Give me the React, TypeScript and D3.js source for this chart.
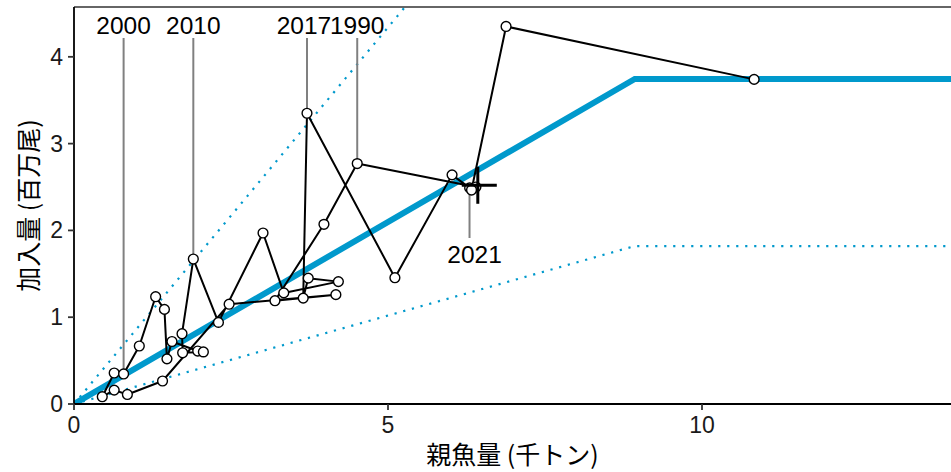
import React from "react";
import * as d3 from "d3";

// ---- data ----
const years = [
  1989, 1990, 1991, 1992, 1993, 1994, 1995, 1996, 1997, 1998, 1999,
  2000, 2001, 2002, 2003, 2004, 2005, 2006, 2007, 2008, 2009,
  2010, 2011, 2012, 2013, 2014, 2015, 2016, 2017, 2018, 2019,
  2020, 2021, 2022, 2023,
];
// spawning stock biomass (thousand t)
const ssb = [
  6.40, 4.51, 3.98, 3.20, 4.17, 2.47, 1.41, 0.85, 0.64, 0.45, 0.64,
  0.79, 1.04, 1.30, 1.44, 1.48, 1.56, 1.97, 2.06, 1.73, 1.72,
  1.90, 2.30, 3.01, 3.34, 4.21, 3.73, 3.65, 3.71, 5.11, 6.02,
  6.30, 6.33, 6.88, 10.83,
];
// recruitment (million fish)
const rec = [
  2.50, 2.77, 2.07, 1.19, 1.26, 1.15, 0.265, 0.11, 0.16, 0.084, 0.357,
  0.346, 0.668, 1.236, 1.09, 0.52, 0.72, 0.61, 0.60, 0.59, 0.81,
  1.67, 0.94, 1.97, 1.28, 1.41, 1.45, 1.22, 3.35, 1.455, 2.64,
  2.49, 2.465, 4.35, 3.74,
];

// hockey-stick stock–recruitment relation and its bands
const srX = [0, 8.93, 14];
const srMid = [0, 3.745, 3.745];
const srUpper = [0, 7.75, 7.75];
const srLower = [0, 1.82, 1.82];

// "+" marker
const markSSB = [6.43];
const markRec = [2.52];

const labelYearsAbove = [1990, 2000, 2010, 2017];
const labelYearsBelow = [2021];

const xTicks = [0, 5, 10];
const yTicks = [0, 1, 2, 3, 4];

const xTitle = "親魚量 (千トン)";
const yTitle = "加入量 (百万尾)";

const BLUE = "#0099cc";
const FONT = "'Liberation Sans', Arial, 'Noto Sans CJK JP', sans-serif";
const CJK = "'Noto Sans CJK JP', 'Liberation Sans', sans-serif";

export default function App() {
  const W = 951;
  const H = 472;
  const L = 74, R = 951, T = 7, B = 404;
  const x = d3.scaleLinear().domain([0, 13.965]).range([L, R]);
  const y = d3.scaleLinear().domain([0, 4.574]).range([B, T]);

  const sr = (vals: number[]) =>
    d3.line<number>().x((_, i) => x(srX[i])).y((d) => y(d))(vals) || "";

  const pts = years.map((yr, i) => ({ yr, s: ssb[i], r: rec[i] }));
  const path =
    d3
      .line<{ s: number; r: number }>()
      .x((d) => x(d.s))
      .y((d) => y(d.r))(pts) || "";

  const find = (yr: number) => pts.find((p) => p.yr === yr)!;

  return (
    <svg
      width={W}
      height={H}
      style={{ position: "absolute", left: 0, top: 0, background: "#fff" }}
    >
      <defs>
        <clipPath id="plotClip">
          <rect x={L} y={T} width={R - L} height={B - T} />
        </clipPath>
      </defs>

      {/* SR lines */}
      <g clipPath="url(#plotClip)" fill="none">
        <path d={sr(srUpper)} stroke={BLUE} strokeWidth={2.2} strokeDasharray="2.2 6.8" />
        <path d={sr(srLower)} stroke={BLUE} strokeWidth={2.2} strokeDasharray="2.2 6.8" />
        <path d={sr(srMid)} stroke={BLUE} strokeWidth={6} />
      </g>

      {/* label segments */}
      <g stroke="#808080" strokeWidth={2}>
        {labelYearsAbove.map((yr) => {
          const p = find(yr);
          return (
            <line key={yr} x1={x(p.s)} x2={x(p.s)} y1={38} y2={y(p.r) - 4} />
          );
        })}
        {labelYearsBelow.map((yr) => {
          const p = find(yr);
          return (
            <line key={yr} x1={x(p.s) - 2} x2={x(p.s) - 2} y1={y(p.r) + 3} y2={238} />
          );
        })}
      </g>

      {/* path + points */}
      <path d={path} fill="none" stroke="#000" strokeWidth={2} strokeLinejoin="round" />
      <g>
        {pts.map((p) => (
          <circle
            key={p.yr}
            cx={x(p.s)}
            cy={y(p.r)}
            r={4.9}
            fill="#fff"
            stroke="#000"
            strokeWidth={1.4}
          />
        ))}
      </g>

      {/* + marker */}
      {markSSB.map((s, i) => {
        const cx = x(s);
        const cy = y(markRec[i]);
        return (
          <g key={i} stroke="#000" strokeWidth={3}>
            <line x1={cx - 16} x2={cx + 19} y1={cy} y2={cy} />
            <line x1={cx} x2={cx} y1={cy - 18.5} y2={cy + 18.5} />
          </g>
        );
      })}

      {/* labels */}
      <g fontFamily={FONT} fontSize={24.5} fill="#000" textAnchor="middle">
        {labelYearsAbove.map((yr) => {
          const p = find(yr);
          return (
            <text key={yr} x={x(p.s) - (yr === 2017 ? 3 : 0)} y={34}>
              {yr}
            </text>
          );
        })}
        {labelYearsBelow.map((yr) => {
          const p = find(yr);
          return (
            <text key={yr} x={x(p.s) + 3} y={263}>
              {yr}
            </text>
          );
        })}
      </g>

      {/* frame and axes */}
      <line x1={L} x2={R} y1={T} y2={T} stroke="#333" strokeWidth={1.3} />
      <line x1={L} x2={L} y1={T} y2={B} stroke="#000" strokeWidth={1.8} />
      <line x1={L} x2={R} y1={B} y2={B} stroke="#000" strokeWidth={1.8} />

      <g fontFamily={FONT} fontSize={23} fill="#1a1a1a">
        {yTicks.map((t) => (
          <g key={t}>
            <line x1={L - 6} x2={L} y1={y(t)} y2={y(t)} stroke="#333" strokeWidth={1.8} />
            <text x={L - 11} y={y(t)} textAnchor="end" dominantBaseline="central">
              {t}
            </text>
          </g>
        ))}
        {xTicks.map((t) => (
          <g key={t}>
            <line x1={x(t)} x2={x(t)} y1={B} y2={B + 6} stroke="#333" strokeWidth={1.8} />
            <text x={x(t)} y={433} textAnchor="middle">
              {t}
            </text>
          </g>
        ))}
      </g>

      <text
        x={(L + R) / 2}
        y={464}
        textAnchor="middle"
        fontFamily={CJK}
        fontSize={25}
        fill="#000"
      >
        {xTitle}
      </text>
      <text
        transform={`translate(38, ${(T + B) / 2}) rotate(-90)`}
        textAnchor="middle"
        fontFamily={CJK}
        fontSize={25}
        fill="#000"
      >
        {yTitle}
      </text>
    </svg>
  );
}
